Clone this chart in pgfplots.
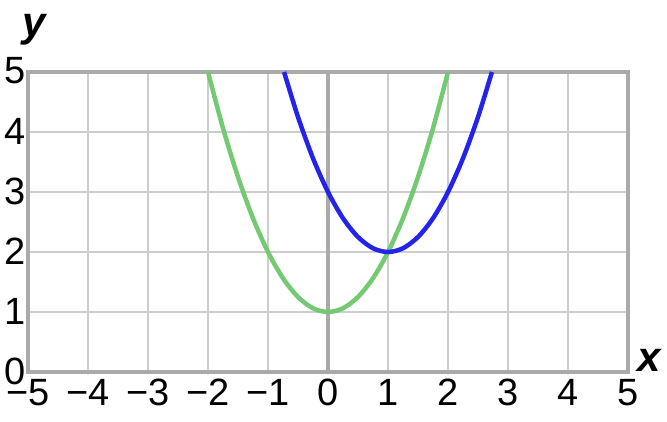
\documentclass[border=0pt]{standalone}
\usepackage{pgfplots}
\pgfplotsset{compat=1.18}
\usepackage{fontspec}
\setmainfont{Liberation Sans}
\definecolor{curvegreen}{RGB}{115,202,115}
\definecolor{curveblue}{RGB}{35,35,235}
\definecolor{gridgray}{RGB}{205,205,205}
\definecolor{framegray}{RGB}{170,170,170}

\begin{document}
\begin{tikzpicture}
\useasboundingbox (-28pt,-49pt) rectangle (639pt,372pt);
\begin{axis}[
    at={(0pt,0pt)}, anchor=south west,
    scale only axis,
    width=600pt, height=300pt,
    xmin=-5, xmax=5, ymin=0, ymax=5,
    xtick={-5,...,5}, ytick={0,...,5},
    xticklabels={−5,−4,−3,−2,−1,0,1,2,3,4,5},
    yticklabels={0,1,2,3,4,5},
    major tick length=0pt,
    grid=major,
    major grid style={gridgray, line width=2.5pt},
    axis line style={framegray, line width=4.5pt},
    ticklabel style={font=\fontsize{38}{40}\selectfont, inner sep=1pt},
    xticklabel style={yshift=-6pt},
    yticklabel style={xshift=-1pt, yshift=1pt},
    clip=false,
]
% y axis at x = 0
\draw[framegray, line width=4.5pt] (axis cs:0,0) -- (axis cs:0,5);

% green: y = x^2 + 1
\addplot[curvegreen, line width=4.5pt, smooth] coordinates {
    (-2,5) (-1.75,4.0625) (-1.5,3.25) (-1.25,2.5625) (-1,2)
    (-0.75,1.5625) (-0.5,1.25) (-0.25,1.0625) (0,1)
    (0.25,1.0625) (0.5,1.25) (0.75,1.5625) (1,2)
    (1.25,2.5625) (1.5,3.25) (1.75,4.0625) (2,5)
};

% blue: y = (x-1)^2 + 2
\addplot[curveblue, line width=4.5pt, smooth] coordinates {
    (-0.732,5) (-0.5,4.25) (-0.25,3.5625) (0,3) (0.25,2.5625)
    (0.5,2.25) (0.75,2.0625) (1,2) (1.25,2.0625) (1.5,2.25)
    (1.75,2.5625) (2,3) (2.25,3.5625) (2.5,4.25) (2.732,5)
};

\node[font=\fontsize{42}{44}\selectfont\bfseries\itshape] at (axis cs:-4.9,5.7) {y};
\node[font=\fontsize{42}{44}\selectfont\bfseries\itshape] at (axis cs:5.36,0.2) {x};
\end{axis}
\end{tikzpicture}
\end{document}
